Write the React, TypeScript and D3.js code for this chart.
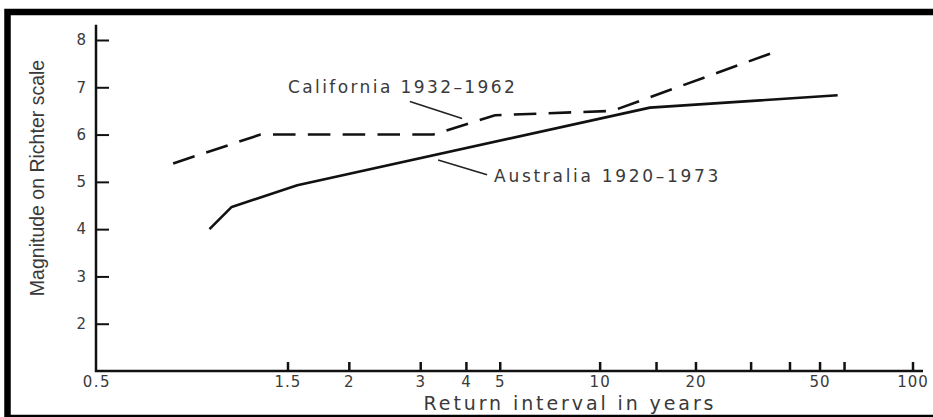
import { useEffect, useRef } from "react";
import * as d3 from "d3";

// return interval (years) and magnitude
const australiaT = [1.16, 1.23, 1.56, 14.3, 57];
const australiaM = [4.0, 4.47, 4.93, 6.57, 6.83];
const californiaT = [1.08, 1.35, 3.24, 4.83, 10.9, 34.5];
const californiaM = [5.39, 6.0, 6.0, 6.41, 6.5, 7.71];

const xTicks = [1.5, 2, 3, 4, 5, 10, 15, 20, 30, 40, 50, 60, 100];
const xTickLabels = [1.5, 2, 3, 4, 5, 10, 20, 50, 100];
const yTicks = [2, 3, 4, 5, 6, 7, 8];

// Gumbel (extreme value) paper: reduced variate of the return period
const gumbel = (t: number) => -Math.log(-Math.log(1 - 1 / t));

export default function App() {
  const chartRef = useRef<SVGSVGElement>(null);

  useEffect(() => {
    if (!chartRef.current) return;
    const svg = d3.select(chartRef.current);
    svg.selectAll("*").remove();

    const W = 933;
    const H = 417;
    const originX = 96;
    const ink = "#111";
    const textCol = "#3a3a3a";

    const u = d3.scaleLinear().domain([gumbel(1.5), gumbel(100)]).range([288, 913]);
    const x = (t: number) => u(gumbel(t));
    const y = d3.scaleLinear().domain([1, 8]).range([371, 40]);

    svg.append("rect").attr("width", W).attr("height", H).attr("fill", "#fff");

    // frame
    svg
      .append("rect")
      .attr("x", 7.5)
      .attr("y", 12)
      .attr("width", W + 20)
      .attr("height", 406)
      .attr("fill", "none")
      .attr("stroke", "#000")
      .attr("stroke-width", 6.5);

    // axis lines
    svg
      .append("path")
      .attr("d", `M${originX},${y(8.32)}V${y(1)}H923`)
      .attr("fill", "none")
      .attr("stroke", ink)
      .attr("stroke-width", 2.5);

    // y axis
    const yAxis = d3.axisLeft(y).tickValues(yTicks).tickSize(-13).tickPadding(10).tickFormat(d3.format("d"));
    const yg = svg.append("g").attr("transform", `translate(${originX},0)`).call(yAxis);
    yg.select(".domain").remove();
    yg.selectAll("line").attr("stroke", ink).attr("stroke-width", 2);
    yg.selectAll("text")
      .attr("fill", textCol)
      .style("font-family", "DejaVu Sans")
      .style("font-size", "15px");

    // x axis ticks (upward)
    const xg = svg.append("g");
    xg.selectAll("line")
      .data(xTicks)
      .enter()
      .append("line")
      .attr("x1", (d) => x(d))
      .attr("x2", (d) => x(d))
      .attr("y1", y(1))
      .attr("y2", y(1) - 9)
      .attr("stroke", ink)
      .attr("stroke-width", 2.5);

    xg.selectAll("text")
      .data(xTickLabels)
      .enter()
      .append("text")
      .attr("x", (d) => x(d))
      .attr("y", y(1) + 16)
      .attr("text-anchor", "middle")
      .attr("fill", textCol)
      .style("font-family", "DejaVu Sans")
      .style("font-size", "15px")
      .style("letter-spacing", "1px")
      .text((d) => String(d));

    xg.append("text")
      .attr("x", originX + 1)
      .attr("y", y(1) + 16)
      .attr("text-anchor", "middle")
      .attr("fill", textCol)
      .style("font-family", "DejaVu Sans")
      .style("font-size", "15px")
      .style("letter-spacing", "1.5px")
      .text("0.5");

    // axis titles
    svg
      .append("text")
      .attr("x", 570)
      .attr("y", 410)
      .attr("text-anchor", "middle")
      .attr("fill", textCol)
      .style("font-family", "DejaVu Sans")
      .style("font-size", "19px")
      .style("letter-spacing", "2.9px")
      .text("Return interval in years");

    svg
      .append("text")
      .attr("transform", "translate(44,178) rotate(-90)")
      .attr("text-anchor", "middle")
      .attr("fill", textCol)
      .style("font-family", "Liberation Sans")
      .style("font-size", "19.5px")
      .text("Magnitude on Richter scale");

    // series
    const line = d3
      .line<[number, number]>()
      .x((d) => x(d[0]))
      .y((d) => y(d[1]));

    const aus = australiaT.map((t, i) => [t, australiaM[i]] as [number, number]);
    const cal = californiaT.map((t, i) => [t, californiaM[i]] as [number, number]);

    svg
      .append("path")
      .datum(aus)
      .attr("d", line)
      .attr("fill", "none")
      .attr("stroke", ink)
      .attr("stroke-width", 2.6)
      .attr("stroke-linejoin", "round");

    const calPath = svg
      .append("path")
      .datum(cal)
      .attr("d", line)
      .attr("fill", "none")
      .attr("stroke", ink)
      .attr("stroke-width", 2.6);
    // stretch the dash pattern a little so both ends get a full dash
    const len = (calPath.node() as SVGPathElement).getTotalLength();
    let dash = 22;
    let gap = 12;
    const n = Math.max(1, Math.round((len + gap) / (dash + gap)));
    const k = len / (n * (dash + gap) - gap);
    dash *= k;
    gap *= k;
    calPath.attr("stroke-dasharray", `${dash},${gap}`);

    // labels with leader lines
    const leaders: [number, number][][] = [
      [[2.81, 6.7], [3.89, 6.34]],
      [[3.34, 5.46], [4.58, 5.15]],
    ];
    svg
      .selectAll(".leader")
      .data(leaders)
      .enter()
      .append("path")
      .attr("class", "leader")
      .attr("d", line)
      .attr("stroke", "#222")
      .attr("stroke-width", 1.6);

    svg
      .append("text")
      .attr("x", x(1.5))
      .attr("y", y(6.88))
      .attr("fill", textCol)
      .style("font-family", "DejaVu Sans")
      .style("font-size", "17px")
      .style("letter-spacing", "2.4px")
      .text("California 1932\u20131962");

    svg
      .append("text")
      .attr("x", x(4.8))
      .attr("y", y(5.0))
      .attr("fill", textCol)
      .style("font-family", "DejaVu Sans")
      .style("font-size", "17px")
      .style("letter-spacing", "2.7px")
      .text("Australia 1920\u20131973");
  }, []);

  return (
    <svg
      ref={chartRef}
      width={933}
      height={417}
      style={{ position: "absolute", left: 0, top: 0, display: "block" }}
    />
  );
}
